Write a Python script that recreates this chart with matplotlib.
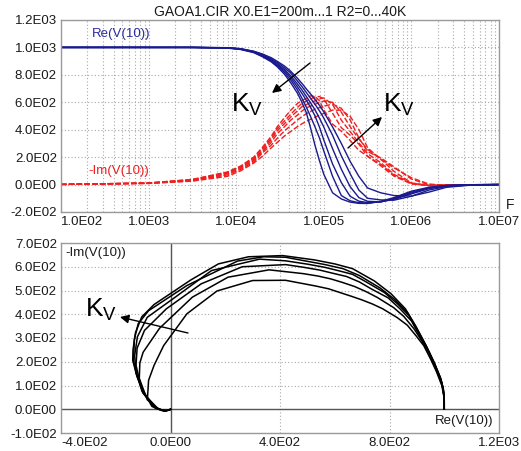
import numpy as np
import matplotlib
matplotlib.use("Agg")
import matplotlib.pyplot as plt
from matplotlib.ticker import LogLocator, NullFormatter

plt.rcParams["font.family"] = ["Liberation Sans", "DejaVu Sans"]
plt.rcParams["mathtext.fontset"] = "custom"
plt.rcParams["mathtext.rm"] = "Liberation Sans"
plt.rcParams["mathtext.it"] = "Liberation Sans"

# ---------------- data ----------------
title = "GAOA1.CIR X0.E1=200m...1 R2=0...40K"
log_freq = [2.0, 3.0, 3.5, 3.9, 4.05, 4.2, 4.3, 4.4, 4.47, 4.55, 4.62, 4.7, 4.75,
            4.8, 4.85, 4.9, 4.95, 5.0, 5.1, 5.2, 5.3, 5.4, 5.5, 5.65, 5.8, 6.0,
            6.2, 6.4, 6.7, 7.0]

re_A = [1000, 1000, 1000, 995, 985, 962, 932, 895, 858, 805, 745, 665, 600,
        525, 410, 285, 175, 75, -60, -105, -128, -137, -138, -122, -95, -48,
        -20, -6, -1, 0]
im_A = [1, 12, 38, 92, 135, 200, 272, 352, 423, 487, 540, 592, 612,
        629, 647, 642, 612, 545, 441, 389, 322, 250, 206, 137, 62, 5,
        -8, -4, -1, 0]

re_B = [1000, 1000, 1000, 996, 987, 965, 936, 900, 865, 818, 765, 690, 630,
        565, 495, 420, 340, 245, 60, -80, -118, -132, -135, -125, -100, -55,
        -22, -7, -1, 0]
im_B = [1, 11, 36, 88, 130, 192, 262, 339, 408, 463, 511, 563, 592,
        609, 624, 640, 642, 624, 521, 415, 360, 295, 205, 148, 68, 6,
        -7, -4, -1, 0]

re_C = [1000, 1000, 1000, 997, 988, 967, 940, 905, 872, 830, 782, 712, 665,
        615, 562, 500, 420, 325, 150, 15, -85, -121, -131, -126, -104, -62,
        -25, -8, -1, 0]
im_C = [1, 11, 34, 84, 125, 183, 250, 326, 393, 443, 491, 538, 568,
        583, 598, 611, 625, 632, 584, 470, 387, 305, 225, 160, 75, 10,
        -7, -4, -1, 0]

re_D = [1000, 1000, 1000, 997, 989, 969, 944, 911, 880, 840, 795, 733, 690,
        643, 595, 545, 485, 420, 262, 112, -15, -95, -122, -126, -108, -68,
        -30, -10, -2, 0]
im_D = [1, 10, 31, 78, 118, 175, 240, 308, 372, 421, 469, 507, 536,
        559, 572, 586, 598, 609, 600, 528, 423, 332, 257, 185, 97, 12,
        -6, -4, -1, 0]

re_E = [1000, 1000, 1000, 998, 990, 971, 948, 918, 890, 852, 815, 755, 715,
        672, 628, 585, 538, 485, 360, 210, 80, -40, -100, -112, -114, -85,
        -40, -14, -2, 0]
im_E = [1, 9, 28, 70, 110, 165, 231, 288, 338, 391, 428, 471, 495,
        517, 534, 549, 561, 571, 587, 556, 472, 341, 240, 195, 130, 40,
        -2, -5, -1, 0]

re_F = [1000, 1000, 1000, 998, 991, 972, 952, 925, 898, 865, 828, 775, 738,
        698, 660, 620, 578, 530, 420, 300, 170, 60, -25, -60, -80, -84,
        -55, -20, -3, 0]
im_F = [1, 8, 25, 60, 100, 157, 207, 268, 308, 354, 386, 423, 443,
        461, 476, 491, 507, 519, 543, 542, 498, 402, 268, 185, 122, 50,
        4, -6, -2, 0]

re_curves = [re_A, re_B, re_C, re_D, re_E, re_F]
im_curves = [im_A, im_B, im_C, im_D, im_E, im_F]

x1_ticks = [1e2, 1e3, 1e4, 1e5, 1e6, 1e7]
x1_labels = ["1.0E02", "1.0E03", "1.0E04", "1.0E05", "1.0E06", "1.0E07"]
y1_ticks = [-200, 0, 200, 400, 600, 800, 1000, 1200]
y1_labels = ["-2.0E02", "0.0E00", "2.0E02", "4.0E02", "6.0E02", "8.0E02", "1.0E03", "1.2E03"]
x2_ticks = [-400, 0, 400, 800, 1200]
x2_labels = ["-4.0E02", "0.0E00", "4.0E02", "8.0E02", "1.2E03"]
y2_ticks = [-100, 0, 100, 200, 300, 400, 500, 600, 700]
y2_labels = ["-1.0E02", "0.0E00", "1.0E02", "2.0E02", "3.0E02", "4.0E02", "5.0E02", "6.0E02", "7.0E02"]

# ---------------- styling ----------------
BLUE = "#1a1a8e"
RED = "#f01e1e"
GRID = "#a8a8a8"
FRAME = "#9a9a9a"
TXT = "#1a1a1a"
W, H = 521, 451


def rect(l, t, r, b):
    return [l / W, 1 - b / H, (r - l) / W, (b - t) / H]


fig = plt.figure(figsize=(W / 100, H / 100), dpi=100)
ax1 = fig.add_axes(rect(61, 20, 499, 212))
ax2 = fig.add_axes(rect(61, 243, 499, 433))

for ax in (ax1, ax2):
    for s in ax.spines.values():
        s.set_color(FRAME)
        s.set_linewidth(1.0)
    ax.tick_params(which="both", length=0, labelsize=9.5, colors=TXT, pad=3)
    ax.set_axisbelow(True)

# ---- top panel ----
freq = 10 ** np.array(log_freq)
for im in im_curves:
    ax1.plot(freq, im, color=RED, lw=1.0, ls=(0, (4, 1.6)))
for re in re_curves:
    ax1.plot(freq, re, color=BLUE, lw=1.0)
ax1.set_xscale("log")
ax1.set_xlim(1e2, 1e7)
ax1.set_ylim(-200, 1200)
ax1.set_xticks(x1_ticks)
ax1.set_xticklabels(x1_labels)
ax1.xaxis.set_minor_locator(LogLocator(base=10, subs=range(2, 10), numticks=50))
ax1.xaxis.set_minor_formatter(NullFormatter())
ax1.set_yticks(y1_ticks)
ax1.set_yticklabels(y1_labels)
ax1.grid(which="both", axis="x", color=GRID, ls=(0, (1, 2)), lw=0.8)
ax1.grid(which="major", axis="y", color=GRID, ls=(0, (1, 2)), lw=0.8)
ax1.get_xticklabels()[0].set_ha("left")

ax1.text((92 - 61) / 438, (212 - 34) / 192, "Re(V(10))", transform=ax1.transAxes,
         color="#2b2ba0", fontsize=9.5, ha="left", va="center")
ax1.text((88 - 61) / 438, (212 - 171) / 192, "-Im(V(10))", transform=ax1.transAxes,
         color=RED, fontsize=9.5, ha="left", va="center")

kv = r"$\mathrm{K}_\mathrm{V}$"
ax1.text((231 - 61) / 438, (212 - 112) / 192, kv, transform=ax1.transAxes,
         fontsize=19, ha="left", va="baseline", color="k")
ax1.text((383 - 61) / 438, (212 - 112) / 192, kv, transform=ax1.transAxes,
         fontsize=19, ha="left", va="baseline", color="k")
arrow = dict(arrowstyle="-|>", color="k", lw=1.0, mutation_scale=13, shrinkA=0, shrinkB=0)
ax1.annotate("", xy=((272 - 61) / 438, (212 - 93) / 192), xycoords="axes fraction",
             xytext=((310 - 61) / 438, (212 - 63) / 192), textcoords="axes fraction",
             arrowprops=arrow)
ax1.annotate("", xy=((382 - 61) / 438, (212 - 117) / 192), xycoords="axes fraction",
             xytext=((348 - 61) / 438, (212 - 148) / 192), textcoords="axes fraction",
             arrowprops=arrow)

fig.text(280 / W, 1 - 12 / H, title, ha="center", va="center", fontsize=10, color=TXT)
fig.text(510 / W, 1 - 205 / H, "F", ha="center", va="center", fontsize=10, color=TXT)

# ---- bottom panel ----
for re, im in zip(re_curves, im_curves):
    ax2.plot(re, im, color="k", lw=1.1)
ax2.set_xlim(-400, 1200)
ax2.set_ylim(-100, 700)
ax2.set_xticks(x2_ticks)
ax2.set_xticklabels(x2_labels)
ax2.set_yticks(y2_ticks)
ax2.set_yticklabels(y2_labels)
ax2.grid(which="major", color=GRID, ls=(0, (1, 2)), lw=0.8)
ax2.axhline(0, color="#555555", lw=1.0, zorder=1.5)
ax2.axvline(0, color="#555555", lw=1.0, zorder=1.5)
ax2.get_xticklabels()[0].set_ha("left")

ax2.text((65 - 61) / 438, (433 - 253) / 190, "-Im(V(10))", transform=ax2.transAxes,
         fontsize=9.5, ha="left", va="center", color=TXT)
ax2.text((493 - 61) / 438, (433 - 421) / 190, "Re(V(10))", transform=ax2.transAxes,
         fontsize=9.5, ha="right", va="center", color=TXT)
ax2.text((85 - 61) / 438, (433 - 317) / 190, kv, transform=ax2.transAxes,
         fontsize=19, ha="left", va="baseline", color="k")
ax2.annotate("", xy=((120 - 61) / 438, (433 - 317) / 190), xycoords="axes fraction",
             xytext=((188 - 61) / 438, (433 - 333) / 190), textcoords="axes fraction",
             arrowprops=arrow)

fig.savefig("out.png", dpi=100)
